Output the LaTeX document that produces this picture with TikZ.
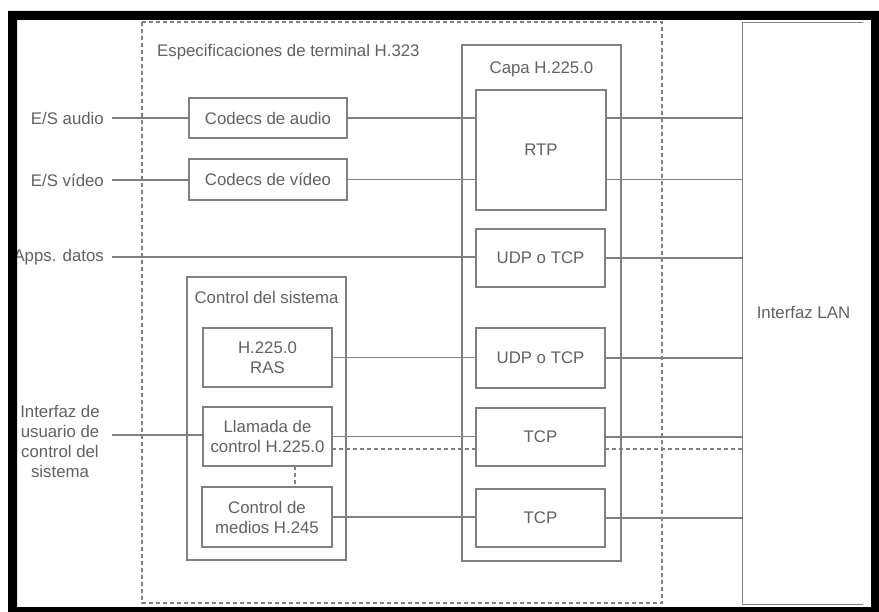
\documentclass[tikz,border=0pt]{standalone}
\usepackage{fontspec}
\setmainfont{Liberation Sans}
\begin{document}
\begin{tikzpicture}[x=1pt,y=-1pt,
  txt/.style={text=black!62, font=\fontsize{16.8}{20}\selectfont},
  ln/.style={draw=black!50, line width=1.1pt},
  dsh/.style={draw=black!50, line width=1.1pt, dash pattern=on 4pt off 3pt},
  box/.style={txt, draw=black!50, line width=1.3pt, fill=white, rectangle, inner sep=0pt, align=center},
  frame/.style={draw=black!50, line width=1.3pt},
  lab/.style={txt, inner sep=0pt, align=center}]
\useasboundingbox (0,0) rectangle (879,612);
\fill[white] (0,0) rectangle (879,612);

% outer terminal boundary and title
\draw[dsh] (142,22) rectangle (662,603);
\node[lab, anchor=west] (title) at (157,52) {Especificaciones de terminal H.323};

% container boxes
\node[frame, rectangle, minimum width=159pt, minimum height=516pt, inner sep=0pt] (capa) at (541.5,303) {};
\node[lab] (capat) at (541.5,69) {Capa H.225.0};
\node[frame, rectangle, minimum width=159pt, minimum height=283pt, inner sep=0pt] (ctl) at (266.5,418.5) {};
\node[lab] (ctlt) at (266.5,297) {Control del sistema};

% LAN interface (open on the right)
\node[rectangle, minimum width=120pt, minimum height=581pt, inner sep=0pt] (lan) at (803,313.5) {};
\draw[frame] (lan.north east) -- (lan.north west) -- (lan.south west) -- (lan.south east);
\node[lab] (lant) at (803.5,313) {Interfaz LAN};

% external inputs
\node[lab, anchor=east, inner xsep=8pt] (esa) at (112,118) {E/S audio};
\node[lab, anchor=east, inner xsep=8pt] (esv) at (112,180) {E/S vídeo};
\node[lab, anchor=east, inner xsep=8pt] (apd) at (112,257) {Apps. datos};
\node[lab] (iu) at (60,441) {Interfaz de\\usuario de\\control del\\sistema};
\coordinate (iuend) at (112,435);

% inner blocks
\coordinate (aud) at (268,118);
\coordinate (vid) at (268,179.5);
\coordinate (ras) at (267.5,357.5);
\coordinate (ll) at (267.5,436.5);
\coordinate (med) at (267,517);
\coordinate (rtp) at (541,150);
\coordinate (udpa) at (540.5,258);
\coordinate (udpb) at (540.5,358);
\coordinate (tcpa) at (540.5,437);
\coordinate (tcpb) at (540.5,518);

% connectors (drawn first, blocks sit on top)
\draw[ln] (esa.east) -- (esa.east -| 189,0);
\draw[ln] (esv.east) -- (esv.east -| 189,0);
\draw[ln] (iuend) -- (203,435);
\draw[dsh] (332,449) -- (743,449);
\draw[dsh] (295,466) -- (295,487);

\node[box, minimum width=158pt, minimum height=40pt] (baud) at (aud) {Codecs de audio};
\node[box, minimum width=158pt, minimum height=41pt] (bvid) at (vid) {Codecs de vídeo};
\node[box, minimum width=129pt, minimum height=59pt] (bras) at (ras) {H.225.0\\RAS};
\node[box, minimum width=129pt, minimum height=59pt] (bll) at (ll) {Llamada de\\control H.225.0};
\node[box, minimum width=130pt, minimum height=60pt] (bmed) at (med) {Control de\\medios H.245};
\node[box, minimum width=130pt, minimum height=120pt] (brtp) at (rtp) {RTP};
\node[box, minimum width=129pt, minimum height=58pt] (budpa) at (udpa) {UDP o TCP};
\node[box, minimum width=129pt, minimum height=60pt] (budpb) at (udpb) {UDP o TCP};
\node[box, minimum width=129pt, minimum height=58pt] (btcpa) at (tcpa) {TCP};
\node[box, minimum width=129pt, minimum height=58pt] (btcpb) at (tcpb) {TCP};

% signal paths into the H.225.0 layer and on to the LAN
\draw[ln] (baud.east) -- (baud.east -| brtp.west);
\draw[ln] (bvid.east) -- (bvid.east -| brtp.west);
\draw[ln] (brtp.east |- baud.east) -- (lan.west |- baud.east);
\draw[ln] (brtp.east |- bvid.east) -- (lan.west |- bvid.east);
\draw[ln] (apd.east) -- (apd.east -| budpa.west);
\draw[ln] (budpa.east) -- (budpa.east -| lan.west);
\draw[ln] (bras.east) -- (bras.east -| budpb.west);
\draw[ln] (budpb.east) -- (budpb.east -| lan.west);
\draw[ln] (bll.east) -- (bll.east -| btcpa.west);
\draw[ln] (btcpa.east) -- (btcpa.east -| lan.west);
\draw[ln] (bmed.east) -- (bmed.east -| btcpb.west);
\draw[ln] (btcpb.east) -- (btcpb.east -| lan.west);

% surrounding black frame
\fill[black, even odd rule] (8,11) rectangle (879,612) (17,20) rectangle (871,607);
\end{tikzpicture}
\end{document}
